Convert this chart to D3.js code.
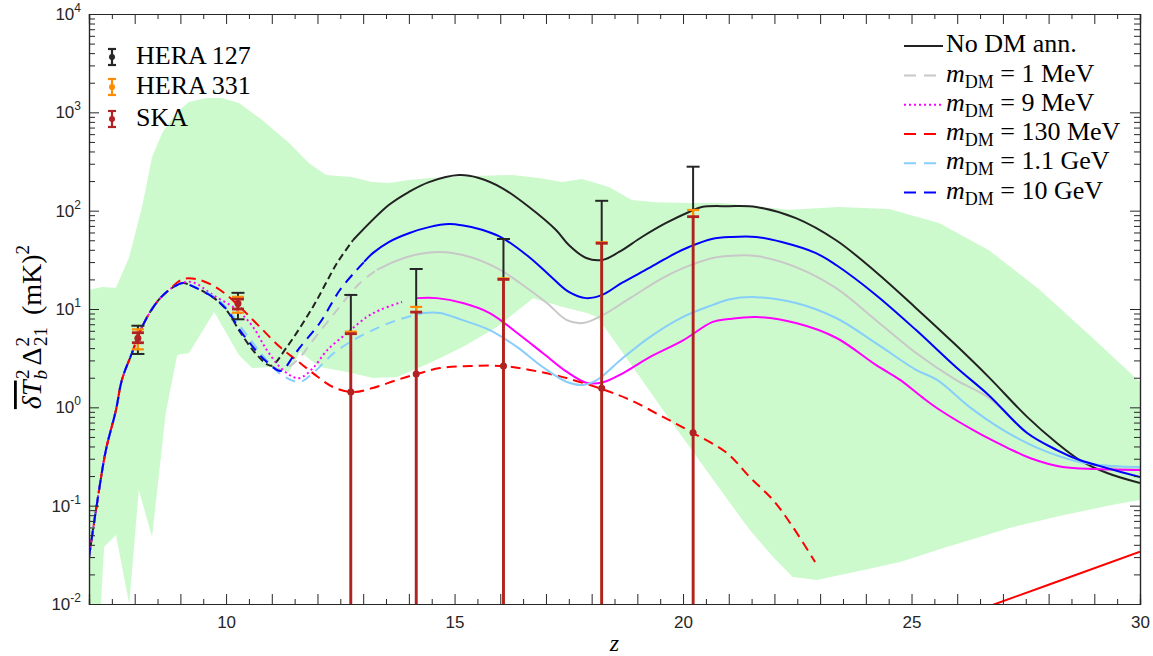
<!DOCTYPE html>
<html><head><meta charset="utf-8">
<script src="https://cdn.jsdelivr.net/npm/d3@7/dist/d3.min.js"></script>
<style>body{margin:0;background:#fff}svg{display:block}</style>
</head><body>
<svg id="chart" width="1153" height="656"></svg>
<script>
// ---------------- data (z, value in mK^2) ----------------
const commonRise = [[7.0,0.030],[7.22,0.144],[7.37,0.368],[7.59,0.94],[7.72,1.90],[7.94,3.57],[8.16,6.56],[8.47,11.5],[8.75,15.6]];

const noDM = commonRise.concat([[9.06,18.4],[9.21,17.5],[9.71,13.2],[10.02,9.6],[10.30,5.9],[10.59,3.8],[10.89,2.75],[11.0,2.65],[11.33,4.1],[11.90,10.5],[12.43,29.4],[12.78,50.3],[13.56,114],[14.0,155],[14.44,195],[15.10,230],[15.53,215],[16.04,170],[16.63,109],[17.22,63.6],[17.50,44.8],[17.88,33],[18.23,31.5],[18.60,38],[19.10,54],[19.63,75],[20.13,97],[20.41,109],[21.0,111],[21.6,109],[22.47,84],[23.35,50],[24.22,23.8],[25.10,10.2],[25.97,4.3],[26.69,2.03],[27.53,0.80],[28.18,0.434],[28.68,0.291],[29.28,0.215],[30.0,0.17]]);

const m1MeV = commonRise.concat([[9.06,18.4],[9.21,17.5],[9.71,13.3],[10.02,9.8],[10.30,6.3],[10.59,4.3],[10.89,3.0],[11.2,2.4],[11.55,3.0],[11.90,4.8],[12.34,8.7],[12.93,18.4],[13.30,25],[13.96,33.8],[14.68,38],[15.34,33.8],[15.93,26],[16.43,18.4],[17.02,11.5],[17.46,7.7],[17.81,7.2],[18.25,8.7],[18.84,12.9],[19.56,20.7],[20.0,26],[20.65,33],[21.0,34.6],[21.6,34.6],[22.47,26.7],[23.35,16.3],[24.22,7.7],[25.10,3.57],[25.97,1.9],[26.69,1.25],[27.53,0.55],[28.18,0.37],[28.68,0.29],[29.28,0.245],[30.0,0.235]]);

const m9MeV = commonRise.concat([[9.06,18.6],[9.3,18.5],[9.71,13.9],[10.24,9.8],[10.59,6.56],[10.89,3.83],[11.18,2.57],[11.46,2.04],[11.62,1.99],[11.90,2.5],[12.21,3.8],[12.65,5.7],[13.08,8.3],[13.37,9.8],[13.85,11.8],[14.18,12.9],[14.61,12.9],[15.18,11.5],[15.77,9.1],[16.37,5.7],[16.93,3.57],[17.46,2.29],[17.90,1.77],[18.25,1.8],[18.69,2.23],[19.28,3.25],[20.0,4.8],[20.65,7.4],[21.0,7.9],[21.6,8.3],[22.47,7.2],[23.35,5.1],[24.22,2.7],[24.75,1.9],[25.23,1.27],[25.62,0.94],[26.43,0.56],[27.09,0.39],[27.59,0.305],[28.31,0.247],[29.06,0.236],[30.0,0.23]]);

const m130MeV = commonRise.concat([[9.06,20.2],[9.43,19.7],[9.87,15.6],[10.30,10.5],[10.74,6.56],[11.18,4.1],[11.55,3.0],[11.90,2.23],[12.34,1.61],[12.78,1.43],[13.21,1.57],[13.74,1.9],[14.18,2.18],[14.68,2.51],[15.34,2.63],[16.06,2.63],[16.65,2.4],[17.37,2.03],[18.23,1.53],[18.84,1.19],[19.56,0.80],[20.22,0.548],[20.96,0.343],[21.46,0.195],[21.97,0.114],[22.40,0.061],[22.89,0.0267]]);

const m1p1GeV = commonRise.concat([[9.06,18.4],[9.21,17.6],[9.71,13.6],[10.02,10.2],[10.30,6.8],[10.59,4.5],[10.89,3.0],[11.18,2.2],[11.6,1.81],[11.90,2.23],[12.34,3.5],[12.71,4.6],[13.21,6.1],[13.74,7.7],[14.31,9.1],[14.68,9.1],[15.18,7.7],[15.77,6.1],[16.37,4.1],[16.93,2.57],[17.46,1.81],[17.81,1.69],[18.12,1.9],[18.62,3.0],[19.28,5.2],[20.0,8.3],[20.65,11],[21.0,12.5],[21.6,13.2],[22.47,11.5],[23.35,8.1],[24.22,4.5],[25.10,2.4],[25.56,1.9],[26.28,1.0],[27.0,0.59],[27.74,0.39],[28.68,0.278],[29.41,0.253],[30.0,0.247]]);

const m10GeV = commonRise.concat([[9.06,18.4],[9.21,17.5],[9.71,13.2],[10.02,9.8],[10.30,6.1],[10.59,4.1],[10.89,2.9],[11.2,2.35],[11.46,3.25],[11.62,4.1],[12.05,7.2],[12.49,15.6],[12.86,25],[13.02,30.1],[13.21,37],[13.56,48],[14.0,59],[14.44,68],[14.88,73],[15.16,71],[15.60,64],[16.04,53],[16.63,33.8],[17.07,22.2],[17.50,14.9],[17.88,12.9],[18.23,13.9],[18.66,18.4],[19.25,26],[19.84,37],[20.13,42.7],[20.63,51.5],[21.07,54],[21.6,54],[22.16,48],[22.91,37],[23.35,28],[24.22,13.9],[25.10,6.1],[25.97,2.57],[26.69,1.33],[27.53,0.548],[28.18,0.368],[28.68,0.291],[29.28,0.241],[30.0,0.195]]);

const redLine = [[26.5,0.0088],[28.0,0.0157],[30.0,0.034]];

// uncertainty band: upper edge (left->right) and lower edge (left->right)
const bandUpper = [[7.0,15.6],[7.28,16.7],[7.59,16.4],[7.88,33.8],[8.16,109],[8.38,352],[8.60,617],[8.90,985],[9.19,1274],[9.56,1400],[9.91,1400],[10.28,1245],[10.79,836],[11.38,488],[11.81,305],[12.19,231],[12.75,220],[13.19,196],[13.56,191],[14.0,205],[14.44,215],[15.38,225],[16.26,231],[16.85,215],[17.35,196],[17.79,210],[18.38,174],[18.88,128],[19.41,122],[20.13,120],[20.85,120],[22.32,102],[23.41,109],[24.51,104],[25.60,75],[26.69,39.8],[27.81,15.6],[28.90,5.4],[30.0,1.81]];
const bandLower = [[7.0,0.01],[7.26,0.01],[7.33,0.038],[7.59,0.0503],[7.88,0.01],[8.09,0.144],[8.38,0.048],[8.68,0.875],[8.93,3.41],[9.19,3.57],[9.74,9.3],[10.28,3.41],[10.57,2.51],[10.94,2.57],[11.38,2.29],[11.62,3.65],[12.05,2.57],[12.65,2.29],[13.21,1.99],[13.74,2.03],[14.46,2.82],[15.18,4.1],[15.93,6.56],[16.72,12.9],[17.37,10.5],[17.90,9.1],[18.12,8.3],[18.84,2.82],[19.56,0.94],[20.30,0.313],[21.03,0.106],[21.46,0.0566],[21.97,0.030],[22.40,0.0188],[22.93,0.0175],[23.65,0.0207],[24.75,0.0267],[25.77,0.038],[27.22,0.0607],[28.31,0.080],[29.41,0.102],[30.0,0.114]];

// error bars
const obsZ      = [8.07, 10.26, 12.73, 14.16, 16.07, 18.22, 20.22];
const obsCenter = [5.03, 11.4, 1.43, 2.18, 2.63, 1.56, 0.55];
const hera127Up = [6.76, 14.6, 13.9, 25.5, 51.5, 126, 280];
const hera127Lo = [3.49, 7.86, 0, 0, 0, 0, 0];
const hera331Up = [6.21, 13.3, 5.88, 10.5, 20.5, 47.7, 101.6];
const hera331Lo = [3.89, 9.17, 0, 0, 0, 0, 0];
const skaUp     = [5.74, 12.6, 5.61, 9.3, 20.0, 46.6, 86.9];
const skaLo     = [4.54, 10.0, 0, 0, 0, 0, 0];

const xTickLabels = [10, 15, 20, 25, 30];
const yTickExps = [-2, -1, 0, 1, 2, 3, 4];
const legendModels = ["No DM ann.", "1 MeV", "9 MeV", "130 MeV", "1.1 GeV", "10 GeV"];
const legendObs = ["HERA 127", "HERA 331", "SKA"];

// ---------------- drawing ----------------
const svg = d3.select('#chart');
const M = {l:89, t:14, r:1140, b:604};
const x = d3.scaleLinear().domain([7,30]).range([M.l, M.r]);
const y = d3.scaleLog().domain([1e-2,1e4]).range([M.b, M.t]);
const AX = '#262626';
const serif = "'Liberation Serif','DejaVu Serif',serif";
const sans = "'Liberation Sans',Arial,sans-serif";

svg.append('defs').append('clipPath').attr('id','clip')
  .append('rect').attr('x',M.l).attr('y',M.t).attr('width',M.r-M.l).attr('height',M.b-M.t);
const plot = svg.append('g').attr('clip-path','url(#clip)');

// band
const poly = bandUpper.concat(bandLower.slice().reverse());
plot.append('path')
  .attr('d', d3.line().x(d=>x(d[0])).y(d=>y(d[1]))(poly) + 'Z')
  .attr('fill', '#cdfacd').attr('stroke','none');

const lineGen = d3.line().x(d=>x(d[0])).y(d=>y(Math.max(d[1],1e-4))).curve(d3.curveCatmullRom.alpha(0.5));

const series = [
  {data:noDM,     color:'#222222', dashEnd:12.78, solidStart:12.78, dash:'7,4'},
  {data:m1MeV,    color:'#c8c8c8', dashEnd:13.30, solidStart:13.30, dash:'10,7'},
  {data:m9MeV,    color:'#ff00ff', dashEnd:13.85, solidStart:14.18, dash:'2,3'},
  {data:m130MeV,  color:'#ff0000', dashEnd:99,    solidStart:99,    dash:'10,6'},
  {data:m1p1GeV,  color:'#87cefa', dashEnd:14.31, solidStart:14.31, dash:'10,7'},
  {data:m10GeV,   color:'#0000ff', dashEnd:13.02, solidStart:13.02, dash:'10,7'}
];
series.forEach(s => {
  const dpart = s.data.filter(d=>d[0] <= s.dashEnd);
  const spart = s.data.filter(d=>d[0] >= s.solidStart);
  if (dpart.length>1) plot.append('path').attr('d', lineGen(dpart)).attr('fill','none')
    .attr('stroke', s.color).attr('stroke-width', 2).attr('stroke-dasharray', s.dash);
  if (spart.length>1) plot.append('path').attr('d', lineGen(spart)).attr('fill','none')
    .attr('stroke', s.color).attr('stroke-width', 2);
});
plot.append('path').attr('d', d3.line().x(d=>x(d[0])).y(d=>y(d[1]))(redLine)).attr('fill','none')
  .attr('stroke','#ff0000').attr('stroke-width',2);

// error bars
function errorBars(up, lo, color, lw, capW, r) {
  const g = plot.append('g');
  obsZ.forEach((z,i) => {
    const cx = x(z);
    const yTop = y(up[i]);
    const yBot = lo[i] > 0.01 ? y(lo[i]) : M.b + 5;
    g.append('line').attr('x1',cx).attr('x2',cx).attr('y1',yTop).attr('y2',yBot)
      .attr('stroke',color).attr('stroke-width',lw);
    g.append('line').attr('x1',cx-capW/2).attr('x2',cx+capW/2).attr('y1',yTop).attr('y2',yTop)
      .attr('stroke',color).attr('stroke-width',lw);
    if (lo[i] > 0.01) g.append('line').attr('x1',cx-capW/2).attr('x2',cx+capW/2).attr('y1',yBot).attr('y2',yBot)
      .attr('stroke',color).attr('stroke-width',lw);
    g.append('circle').attr('cx',cx).attr('cy',y(obsCenter[i])).attr('r',r).attr('fill',color);
  });
}
errorBars(hera127Up, hera127Lo, '#262626', 2, 13, 3);
errorBars(hera331Up, hera331Lo, '#ff8c00', 2.2, 12, 3);
errorBars(skaUp, skaLo, '#b22222', 2.8, 12, 3.5);

// axes
const gx = svg.append('g').attr('transform',`translate(0,${M.b})`);
gx.call(d3.axisBottom(x).tickValues(d3.range(7,31,1)).tickSize(-10).tickPadding(12)
  .tickFormat(d => xTickLabels.includes(d) ? d : ''));
svg.append('g').attr('transform',`translate(0,${M.b})`)
  .call(d3.axisBottom(x).tickValues(d3.range(7.5,30,1)).tickSize(-5).tickFormat(''));
svg.append('g').attr('transform',`translate(0,${M.t})`)
  .call(d3.axisTop(x).tickValues(d3.range(7,31,1)).tickSize(-10).tickFormat(''));
svg.append('g').attr('transform',`translate(0,${M.t})`)
  .call(d3.axisTop(x).tickValues(d3.range(7.5,30,1)).tickSize(-5).tickFormat(''));

const majors = yTickExps.map(e => Math.pow(10,e));
const minors = [];
yTickExps.slice(0,-1).forEach(e => { for (let k=2;k<=9;k++) minors.push(k*Math.pow(10,e)); });
svg.append('g').attr('transform',`translate(${M.l},0)`)
  .call(d3.axisLeft(y).tickValues(majors).tickSize(-10).tickFormat(''));
svg.append('g').attr('transform',`translate(${M.l},0)`)
  .call(d3.axisLeft(y).tickValues(minors).tickSize(-6).tickFormat(''));
svg.append('g').attr('transform',`translate(${M.r},0)`)
  .call(d3.axisRight(y).tickValues(majors).tickSize(-10).tickFormat(''));
svg.append('g').attr('transform',`translate(${M.r},0)`)
  .call(d3.axisRight(y).tickValues(minors).tickSize(-6).tickFormat(''));

svg.selectAll('.domain').attr('stroke', AX).attr('stroke-width',1.2);
svg.selectAll('.tick line').attr('stroke', AX).attr('stroke-width',1);
gx.selectAll('text').style('font-family',sans).style('font-size','17px').attr('fill',AX);

// y tick labels with superscripts
yTickExps.forEach(e => {
  const t = svg.append('text').attr('x', 81).attr('y', y(Math.pow(10,e)) + 6)
    .attr('text-anchor','end').style('font-family',sans).attr('fill',AX);
  t.append('tspan').style('font-size','17px').text('10');
  t.append('tspan').style('font-size','12px').attr('dy',-8).text(String(e));
});

// axis titles
svg.append('text').attr('x', (M.l+M.r)/2).attr('y', 651).attr('text-anchor','middle')
  .style('font-family',serif).style('font-style','italic').style('font-size','24px').attr('fill','#000').text('z');

const yl = svg.append('text').attr('transform','translate(41,327) rotate(-90)').attr('text-anchor','middle')
  .style('font-family',serif).style('font-size','28px').attr('fill','#000');
yl.append('tspan').style('font-style','italic').attr('text-decoration','overline').text('δT');
yl.append('tspan').style('font-style','italic').style('font-size','19px').attr('dy',6).attr('dx',1).text('b');
yl.append('tspan').style('font-size','19px').attr('dx',-9).attr('dy',-18).text('2');
yl.append('tspan').attr('dy',12).attr('dx',4).text('Δ');
yl.append('tspan').style('font-size','19px').attr('dy',-12).attr('dx',1).text('2');
yl.append('tspan').style('font-size','19px').attr('dx',-9).attr('dy',18).text('21');
yl.append('tspan').attr('dy',-6).attr('dx',12).text('(mK)');
yl.append('tspan').style('font-size','19px').attr('dy',-12).text('2');

// left legend (observations)
const obsColors = ['#262626','#ff8c00','#b22222'];
const obsRowsY = [57, 87, 119];
legendObs.forEach((name,i) => {
  const cy = obsRowsY[i], cx = 112, c = obsColors[i];
  const g = svg.append('g');
  g.append('line').attr('x1',cx).attr('x2',cx).attr('y1',cy-8).attr('y2',cy+8).attr('stroke',c).attr('stroke-width',2.2);
  [cy-8, cy+8].forEach(yy => g.append('line').attr('x1',cx-4).attr('x2',cx+4).attr('y1',yy).attr('y2',yy).attr('stroke',c).attr('stroke-width',2.2));
  g.append('circle').attr('cx',cx).attr('cy',cy).attr('r',3).attr('fill',c);
  g.append('text').attr('x',136).attr('y',cy+7).style('font-family',serif).style('font-size','26px').attr('fill','#000').text(name);
});

// right legend (models)
const rowsBase = [52, 81.5, 110.8, 140, 169.3, 198.5];
series.forEach((s,i) => {
  const b = rowsBase[i];
  const ln = svg.append('line').attr('x1',904).attr('x2',943).attr('y1',b-6).attr('y2',b-6)
    .attr('stroke',s.color).attr('stroke-width',2);
  if (i>0) ln.attr('stroke-dasharray', i===2 ? '2,3' : '12,8');
  const t = svg.append('text').attr('x',946).attr('y',b).style('font-family',serif).style('font-size','26px').attr('fill','#000');
  if (i===0) { t.text(legendModels[0]); }
  else {
    t.append('tspan').style('font-style','italic').text('m');
    t.append('tspan').style('font-size','18px').attr('dy',6).text('DM');
    t.append('tspan').attr('dy',-6).text(' = ' + legendModels[i]);
  }
});
</script>
</body></html>
